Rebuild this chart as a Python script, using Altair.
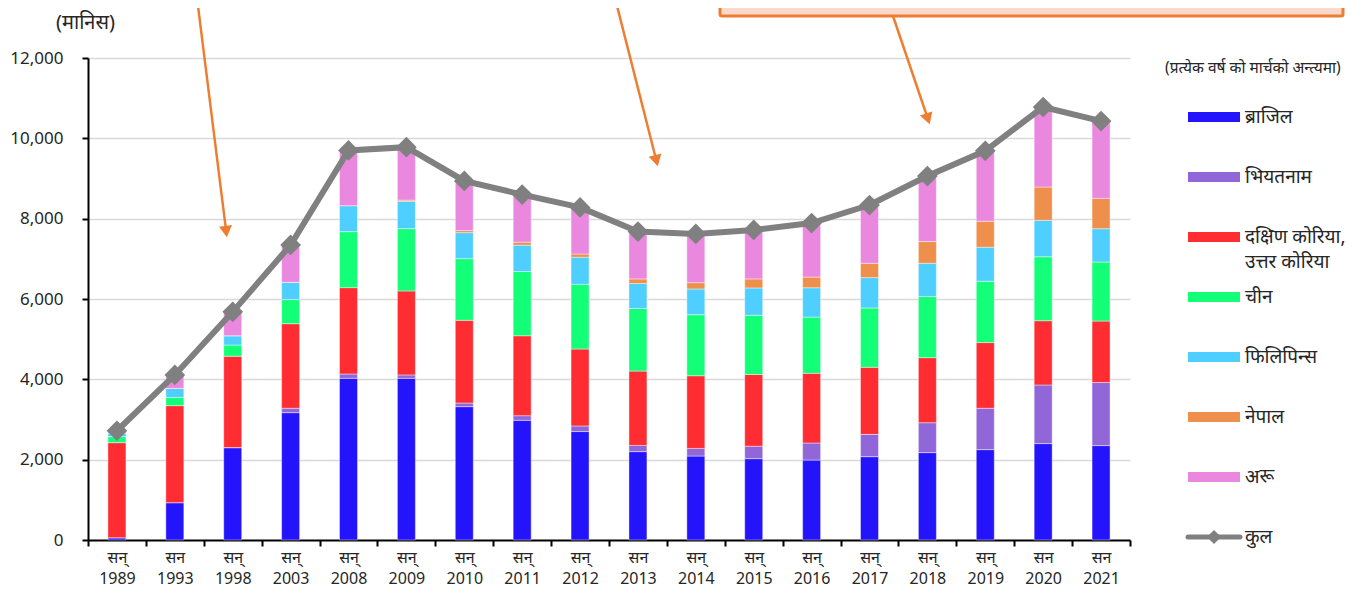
import math
import altair as alt
import pandas as pd

# ---------------- data ----------------
years = ["1989", "1993", "1998", "2003", "2008", "2009", "2010", "2011", "2012",
         "2013", "2014", "2015", "2016", "2017", "2018", "2019", "2020", "2021"]
prefixes = ["सन्", "सन", "सन्", "सन्", "सन्", "सन्", "सन्", "सन्", "सन्",
            "सन", "सन्", "सन्", "सन्", "सन्", "सन्", "सन्", "सन", "सन"]

series_names = ["ब्राजिल", "भियतनाम", "दक्षिण कोरिया, उत्तर कोरिया", "चीन",
                "फिलिपिन्स", "नेपाल", "अरू"]
series_colors = ["#2414fb", "#9166d8", "#ff2d31", "#14ff78", "#4ecfff", "#ef8f4c", "#ea88e0"]

brazil = [56, 930, 2300, 3170, 4025, 4025, 3320, 2980, 2700, 2200, 2090, 2025, 1990, 2075, 2175, 2250, 2400, 2350]
vietnam = [0, 0, 0, 110, 108, 85, 90, 115, 140, 155, 190, 310, 425, 555, 745, 1030, 1460, 1570]
korea = [2367, 2415, 2275, 2105, 2150, 2090, 2060, 1990, 1915, 1850, 1810, 1785, 1735, 1670, 1620, 1635, 1600, 1530]
china = [150, 205, 280, 600, 1394, 1552, 1535, 1600, 1610, 1560, 1520, 1475, 1400, 1477, 1520, 1527, 1593, 1470]
philippines = [80, 225, 230, 430, 647, 680, 647, 655, 675, 620, 640, 680, 730, 755, 830, 847, 905, 830]
nepal = [0, 0, 0, 0, 0, 30, 50, 75, 80, 115, 157, 225, 265, 357, 540, 647, 830, 755]
others = [67, 335, 595, 930, 1376, 1320, 1238, 1185, 1160, 1180, 1213, 1220, 1345, 1450, 1630, 1754, 1990, 1925]
totals = [2720, 4110, 5680, 7345, 9700, 9780, 8940, 8600, 8280, 7680, 7620, 7720, 7890, 8340, 9060, 9690, 10780, 10430]

y_ticks = [0, 2000, 4000, 6000, 8000, 10000, 12000]

unit_label = "(मानिस)"
legend_note = "(प्रत्येक वर्ष को मार्चको अन्त्यमा)"
total_label = "कुल"
korea_line2 = "उत्तर कोरिया"

# ---------------- tables ----------------
labels = [p + "|" + y for p, y in zip(prefixes, years)]
series_values = [brazil, vietnam, korea, china, philippines, nepal, others]
rows = []
for k, (name, vals) in enumerate(zip(series_names, series_values)):
    for lab, v in zip(labels, vals):
        rows.append({"label": lab, "series": name, "value": v, "order": k})
long_df = pd.DataFrame(rows)
tot_df = pd.DataFrame({"label": labels, "total": totals})
one = pd.DataFrame({"a": [0]})

# ---------------- layout constants ----------------
W, H = 1042, 482
PAD = {"left": 80, "top": 50, "right": 221, "bottom": 48}
FONT = "Noto Sans"
TXT = "#262626"
GRAY = "#808080"
ORANGE = "#ed7d31"
LEG_FS = 19

x_enc = alt.X(
    "label:N", sort=labels,
    scale=alt.Scale(paddingInner=0, paddingOuter=0),
    axis=alt.Axis(title=None, labelExpr="split(datum.label, '|')", labelAngle=0,
                  tickBand="extent", domainColor="black", domainWidth=2,
                  tickColor="black", tickWidth=2, tickSize=6,
                  labelFont=FONT, labelFontSize=16, labelColor=TXT,
                  labelPadding=3, labelLineHeight=21, labelBaseline="top"),
)

bars = alt.Chart(long_df).mark_bar(size=18, stroke="white", strokeWidth=0.6, strokeOpacity=0.7).encode(
    x=x_enc,
    y=alt.Y("value:Q", stack="zero",
            scale=alt.Scale(domain=[0, 12000], nice=False),
            axis=alt.Axis(values=y_ticks, labelExpr="format(datum.value, ',')",
                          title=unit_label, titleAngle=0,
                          titleX=-3, titleY=-36, titleAlign="center", titleBaseline="middle",
                          titleFont=FONT, titleFontSize=20, titleFontWeight="normal", titleColor=TXT,
                          grid=True, gridColor="#d9d9d9", gridWidth=1.5,
                          domainColor="black", domainWidth=2, tickColor="black", tickWidth=2,
                          tickSize=6, labelFont=FONT, labelFontSize=17, labelColor=TXT,
                          labelPadding=19)),
    color=alt.Color("series:N",
                    scale=alt.Scale(domain=series_names, range=series_colors),
                    legend=alt.Legend(title=None, orient="none", legendX=1100, legendY=33,
                                      symbolType="M-1,-0.19H1V0.19H-1Z", symbolSize=2704,
                                      symbolStrokeWidth=0, rowPadding=24,
                                      labelFont=FONT, labelFontSize=LEG_FS, labelColor=TXT,
                                      labelOffset=5, labelLimit=300,
                                      labelExpr="split(datum.label, ' उ')[0]")),
    order=alt.Order("order:Q", sort="ascending"),
)

line = alt.Chart(tot_df).mark_line(color=GRAY, strokeWidth=6).encode(
    x=alt.X("label:N", sort=labels), y="total:Q")
pts = alt.Chart(tot_df).mark_point(shape="diamond", filled=True, size=430, color=GRAY, opacity=1).encode(
    x=alt.X("label:N", sort=labels), y="total:Q")

layers = [bars, line, pts]

# annotation box (cut off at top)
layers.append(alt.Chart(one).mark_rect(fill="#f8d9cc", stroke=ORANGE, strokeWidth=3,
                                        cornerRadius=2).encode(
    x=alt.value(632), x2=alt.value(1255), y=alt.value(-80), y2=alt.value(-42)))

# arrows: (start_x, start_y, tip_x, tip_y) in plot-area pixels
ARROWS = [(109, -60, 139, 180), (527, -60, 570, 109), (805, -42, 842, 67)]
HEAD = 170
for sx, sy, tx, ty in ARROWS:
    dx, dy = tx - sx, ty - sy
    L = math.hypot(dx, dy)
    ux, uy = dx / L, dy / L
    r = math.sqrt(HEAD) / 2
    cx, cy = tx - ux * r, ty - uy * r
    ang = (-math.degrees(math.atan2(dx, dy))) % 360
    layers.append(alt.Chart(one).mark_rule(color=ORANGE, strokeWidth=2.5).encode(
        x=alt.value(sx), y=alt.value(sy), x2=alt.value(cx - ux * 4), y2=alt.value(cy - uy * 4)))
    layers.append(alt.Chart(one).mark_point(shape="triangle-down", filled=True, size=HEAD,
                                            color=ORANGE, opacity=1, angle=ang).encode(
        x=alt.value(cx), y=alt.value(cy)))

# legend note, second line of Korea label, and total entry
layers.append(alt.Chart(one).mark_text(text=legend_note, font=FONT, fontSize=15.5, color=TXT,
                                       align="left", baseline="middle").encode(
    x=alt.value(1077), y=alt.value(10)))
layers.append(alt.Chart(one).mark_text(text=korea_line2, font=FONT, fontSize=LEG_FS, color=TXT,
                                       align="left", baseline="middle").encode(
    x=alt.value(1157), y=alt.value(204)))
layers.append(alt.Chart(one).mark_rule(color=GRAY, strokeWidth=5, strokeCap="round").encode(
    x=alt.value(1100), x2=alt.value(1152), y=alt.value(479)))
layers.append(alt.Chart(one).mark_point(shape="diamond", filled=True, size=200, color=GRAY,
                                        opacity=1).encode(x=alt.value(1126), y=alt.value(479)))
layers.append(alt.Chart(one).mark_text(text=total_label, font=FONT, fontSize=LEG_FS, color=TXT,
                                       align="left", baseline="middle").encode(
    x=alt.value(1157), y=alt.value(479)))

chart = alt.layer(*layers).properties(
    width=W, height=H, padding=PAD,
    autosize=alt.AutoSizeParams(type="none"),
).configure_view(stroke=None)

chart.save("out.html", embed_options={"renderer": "svg", "actions": False})
